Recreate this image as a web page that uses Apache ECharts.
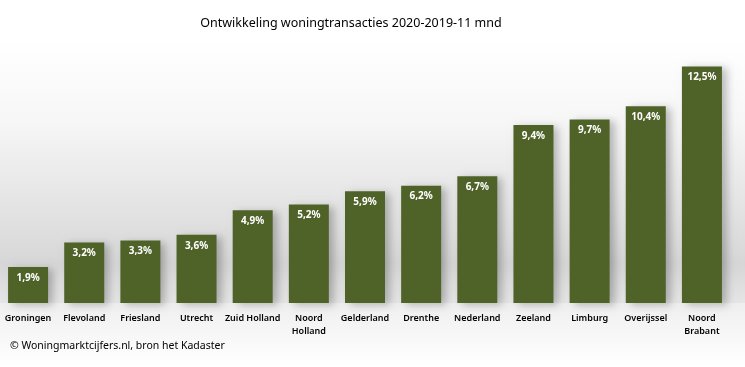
<!DOCTYPE html>
<html><head><meta charset="utf-8">
<script src="https://cdn.jsdelivr.net/npm/echarts@6/dist/echarts.min.js"></script>
<style>html,body{margin:0;padding:0;background:#fff}#c{width:745px;height:367px}</style>
</head><body><div id="c"></div>
<script>
const categories = ["Groningen","Flevoland","Friesland","Utrecht","Zuid Holland","Noord\nHolland","Gelderland","Drenthe","Nederland","Zeeland","Limburg","Overijssel","Noord\nBrabant"];
const values = [1.9,3.2,3.3,3.6,4.9,5.2,5.9,6.2,6.7,9.4,9.7,10.4,12.5];
const titleText = "Ontwikkeling woningtransacties 2020-2019-11 mnd";
const footerText = "© Woningmarktcijfers.nl, bron het Kadaster";

const chart = echarts.init(document.getElementById('c'), null, {renderer:'canvas'});
chart.setOption({
  backgroundColor: '#ffffff',
  animation: false,
  title: {
    text: titleText, left: 346, top: 12, textAlign: 'center',
    textStyle: {fontFamily: 'Noto Sans', fontSize: 12.5, fontWeight: 'normal', color: '#000'}
  },
  graphic: [
    {type:'rect', z:-10, silent:true, shape:{x:0,y:40,width:745,height:263},
     style:{fill:new echarts.graphic.LinearGradient(0,0,0,1,[
       {offset:0,color:'#ffffff'},{offset:0.3,color:'#f7f7f7'},{offset:0.8,color:'#dadada'},{offset:0.85,color:'#d6d6d6'},{offset:1,color:'#e6e6e6'}])}},
    {type:'rect', z:-10, silent:true, shape:{x:0,y:303,width:745,height:64},
     style:{fill:new echarts.graphic.LinearGradient(0,0,0,1,[
       {offset:0,color:'#efefef'},{offset:1,color:'#ffffff'}])}},
    {type:'text', left:10, top:341, z:10,
     style:{text:footerText, fontFamily:'Noto Sans', fontSize:10.5, fill:'#000'}}
  ],
  grid: {left: -5, width: 735, top: 38, bottom: 64, containLabel: false},
  xAxis: {
    type: 'category', data: categories,
    axisLine: {show: false}, axisTick: {show: false},
    axisLabel: {interval: 0, margin: 9, color: '#000', fontFamily: 'Noto Sans', fontSize: 9, fontWeight: 600, lineHeight: 13}
  },
  yAxis: {type: 'value', min: 0, max: 14, show: false, splitLine: {show: false}},
  series: [{
    type: 'bar', data: values, barWidth: 40,
    itemStyle: {color: '#4f6228', shadowBlur: 8, shadowOffsetX: 5, shadowOffsetY: 2, shadowColor: 'rgba(0,0,0,0.25)'},
    label: {
      show: true, position: 'insideTop', distance: 6, color: '#fff',
      fontFamily: 'Noto Sans', fontSize: 10, fontWeight: 'bold',
      formatter: p => String(p.value).replace('.', ',') + '%'
    }
  }]
});
</script></body></html>
